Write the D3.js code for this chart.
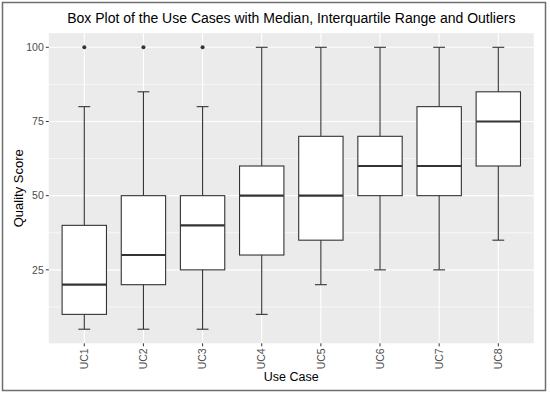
<!DOCTYPE html>
<html>
<head>
<meta charset="utf-8">
<script src="https://cdn.jsdelivr.net/npm/d3@7"></script>
<style>
  body { margin: 0; background: #fff; }
  svg { display: block; font-family: "Liberation Sans", Arial, sans-serif; }
</style>
</head>
<body>
<div id="chart"></div>
<script>
// data
const useCases = ["UC1", "UC2", "UC3", "UC4", "UC5", "UC6", "UC7", "UC8"];
const whiskerLow = [5, 5, 5, 10, 20, 25, 25, 35];
const q1 = [10, 20, 25, 30, 35, 50, 50, 60];
const median = [20, 30, 40, 50, 50, 60, 60, 75];
const q3 = [40, 50, 50, 60, 70, 70, 80, 85];
const whiskerHigh = [80, 85, 80, 100, 100, 100, 100, 100];
const outliers = [[100], [100], [100], [], [], [], [], []];
const yTicks = [25, 50, 75, 100];
const yMinor = [12.5, 37.5, 62.5, 87.5];

const width = 550, height = 395;
const panel = { left: 48.8, right: 533.8, top: 33.2, bottom: 343.3 };

const svg = d3.select("#chart").append("svg")
    .attr("width", width)
    .attr("height", height);

// outer frame
svg.append("rect")
    .attr("x", 2.5).attr("y", 2.5)
    .attr("width", 543).attr("height", 388)
    .attr("fill", "#fff")
    .attr("stroke", "#6e6e6e")
    .attr("stroke-width", 1.5);

// scales, ggplot style: discrete axis expanded by 0.6 of a step on each side
const x = d3.scalePoint()
    .domain(useCases)
    .range([panel.left, panel.right])
    .padding(0.6);
const step = x.step();

const yMin = 5, yMax = 100, pad = (yMax - yMin) * 0.05;
const y = d3.scaleLinear()
    .domain([yMin - pad, yMax + pad])
    .range([panel.bottom, panel.top]);

// panel background
svg.append("rect")
    .attr("x", panel.left).attr("y", panel.top)
    .attr("width", panel.right - panel.left)
    .attr("height", panel.bottom - panel.top)
    .attr("fill", "#ebebeb");

// gridlines
svg.selectAll(".minor").data(yMinor).enter().append("line")
    .attr("x1", panel.left).attr("x2", panel.right)
    .attr("y1", d => y(d)).attr("y2", d => y(d))
    .attr("stroke", "#fff").attr("stroke-width", 0.6);
svg.selectAll(".major").data(yTicks).enter().append("line")
    .attr("x1", panel.left).attr("x2", panel.right)
    .attr("y1", d => y(d)).attr("y2", d => y(d))
    .attr("stroke", "#fff").attr("stroke-width", 1.1);
svg.selectAll(".vgrid").data(useCases).enter().append("line")
    .attr("x1", d => x(d)).attr("x2", d => x(d))
    .attr("y1", panel.top).attr("y2", panel.bottom)
    .attr("stroke", "#fff").attr("stroke-width", 1.1);

// boxes
const boxW = step * 0.75, capW = step * 0.2;
const stroke = "#333";
const g = svg.selectAll(".box").data(useCases).enter().append("g");

g.append("line") // whisker
    .attr("x1", d => x(d)).attr("x2", d => x(d))
    .attr("y1", (d, i) => y(whiskerLow[i])).attr("y2", (d, i) => y(whiskerHigh[i]))
    .attr("stroke", stroke).attr("stroke-width", 1.1);
g.append("line") // lower cap
    .attr("x1", d => x(d) - capW / 2).attr("x2", d => x(d) + capW / 2)
    .attr("y1", (d, i) => y(whiskerLow[i])).attr("y2", (d, i) => y(whiskerLow[i]))
    .attr("stroke", stroke).attr("stroke-width", 1.1);
g.append("line") // upper cap
    .attr("x1", d => x(d) - capW / 2).attr("x2", d => x(d) + capW / 2)
    .attr("y1", (d, i) => y(whiskerHigh[i])).attr("y2", (d, i) => y(whiskerHigh[i]))
    .attr("stroke", stroke).attr("stroke-width", 1.1);
g.append("rect")
    .attr("x", d => x(d) - boxW / 2)
    .attr("y", (d, i) => y(q3[i]))
    .attr("width", boxW)
    .attr("height", (d, i) => y(q1[i]) - y(q3[i]))
    .attr("fill", "#fff")
    .attr("stroke", stroke).attr("stroke-width", 1.1);
g.append("line") // median
    .attr("x1", d => x(d) - boxW / 2).attr("x2", d => x(d) + boxW / 2)
    .attr("y1", (d, i) => y(median[i])).attr("y2", (d, i) => y(median[i]))
    .attr("stroke", stroke).attr("stroke-width", 2.2);
g.each(function(d, i) {
    d3.select(this).selectAll("circle").data(outliers[i]).enter().append("circle")
        .attr("cx", x(d)).attr("cy", v => y(v))
        .attr("r", 2).attr("fill", stroke);
});

// y axis
const yAxis = svg.selectAll(".yt").data(yTicks).enter().append("g");
yAxis.append("line")
    .attr("x1", panel.left - 3).attr("x2", panel.left)
    .attr("y1", d => y(d)).attr("y2", d => y(d))
    .attr("stroke", "#333").attr("stroke-width", 1);
yAxis.append("text")
    .attr("x", panel.left - 5).attr("y", d => y(d))
    .attr("dy", "0.35em")
    .attr("text-anchor", "end")
    .attr("font-size", 10.5)
    .attr("fill", "#4d4d4d")
    .text(d => d);

// x axis
const xAxis = svg.selectAll(".xt").data(useCases).enter().append("g");
xAxis.append("line")
    .attr("x1", d => x(d)).attr("x2", d => x(d))
    .attr("y1", panel.bottom).attr("y2", panel.bottom + 3)
    .attr("stroke", "#333").attr("stroke-width", 1);
xAxis.append("text")
    .attr("transform", d => `translate(${x(d)},${panel.bottom + 5}) rotate(-90)`)
    .attr("dy", "0.35em")
    .attr("text-anchor", "end")
    .attr("font-size", 10.5)
    .attr("fill", "#4d4d4d")
    .text(d => d);

// titles
const midX = (panel.left + panel.right) / 2;
svg.append("text")
    .attr("x", midX).attr("y", 23)
    .attr("text-anchor", "middle")
    .attr("font-size", 14)
    .attr("fill", "#000")
    .text("Box Plot of the Use Cases with Median, Interquartile Range and Outliers");
svg.append("text")
    .attr("x", midX).attr("y", 381)
    .attr("text-anchor", "middle")
    .attr("font-size", 12.5)
    .attr("fill", "#000")
    .text("Use Case");
svg.append("text")
    .attr("transform", `translate(23,${(panel.top + panel.bottom) / 2}) rotate(-90)`)
    .attr("text-anchor", "middle")
    .attr("font-size", 13)
    .attr("fill", "#000")
    .text("Quality Score");
</script>
</body>
</html>
